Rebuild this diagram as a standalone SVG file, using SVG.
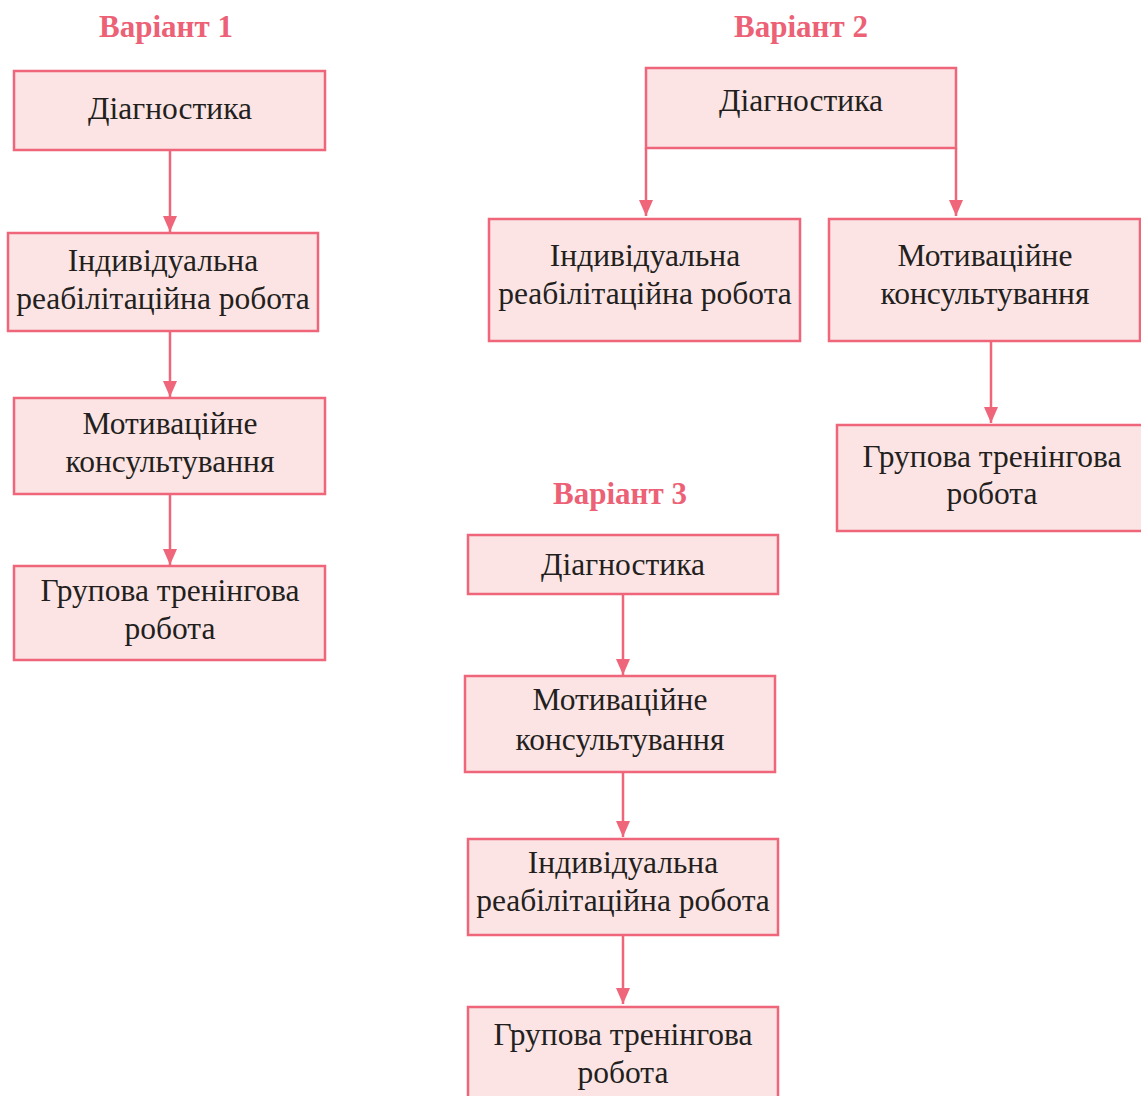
<svg xmlns="http://www.w3.org/2000/svg" width="1141" height="1096" viewBox="0 0 1141 1096">
<defs>
<style>
.box{fill:#fce4e4;stroke:#ef6579;stroke-width:2.5}
.t{font-family:"Liberation Serif","Times New Roman",serif;font-size:31.5px;fill:#231f20;text-anchor:middle}
.h{font-family:"Liberation Serif","Times New Roman",serif;font-size:31px;font-weight:bold;fill:#ec6176;text-anchor:middle}
.c{stroke:#ef6579;stroke-width:2.5;fill:none}
</style>
<marker id="a" viewBox="0 0 16 14" refX="16" refY="7" markerWidth="16" markerHeight="14" markerUnits="userSpaceOnUse" orient="auto">
<path d="M0,0 L16,7 L0,14 Z" fill="#ef6579"/>
</marker>
</defs>
<rect width="1141" height="1096" fill="#ffffff"/>
<text class="h" x="166" y="37">Варіант 1</text>
<text class="h" x="801" y="37">Варіант 2</text>
<text class="h" x="620" y="504">Варіант 3</text>
<g id="connectors">
<line class="c" x1="170" y1="151" x2="170" y2="232" marker-end="url(#a)"/>
<line class="c" x1="170" y1="331" x2="170" y2="397" marker-end="url(#a)"/>
<line class="c" x1="170" y1="494" x2="170" y2="565" marker-end="url(#a)"/>
<line class="c" x1="646" y1="148" x2="646" y2="216" marker-end="url(#a)"/>
<line class="c" x1="956" y1="148" x2="956" y2="216" marker-end="url(#a)"/>
<line class="c" x1="991" y1="341" x2="991" y2="423" marker-end="url(#a)"/>
<line class="c" x1="623" y1="594" x2="623" y2="675" marker-end="url(#a)"/>
<line class="c" x1="623" y1="772" x2="623" y2="837" marker-end="url(#a)"/>
<line class="c" x1="623" y1="935" x2="623" y2="1004" marker-end="url(#a)"/>
</g>
<g id="v1-diag"><rect class="box" x="14" y="71" width="311" height="79"/><text class="t" x="170" y="119">Діагностика</text></g>
<g id="v1-ind"><rect class="box" x="8" y="233" width="310" height="98"/><text class="t" x="163" y="271">Індивідуальна</text><text class="t" x="163" y="309">реабілітаційна робота</text></g>
<g id="v1-mot"><rect class="box" x="14" y="398" width="311" height="96"/><text class="t" x="170" y="434">Мотиваційне</text><text class="t" x="170" y="472">консультування</text></g>
<g id="v1-grp"><rect class="box" x="14" y="566" width="311" height="94"/><text class="t" x="170" y="601">Групова тренінгова</text><text class="t" x="170" y="639">робота</text></g>
<g id="v2-diag"><rect class="box" x="646" y="68" width="310" height="80"/><text class="t" x="801" y="111">Діагностика</text></g>
<g id="v2-ind"><rect class="box" x="489" y="219" width="311" height="122"/><text class="t" x="645" y="266">Індивідуальна</text><text class="t" x="645" y="304">реабілітаційна робота</text></g>
<g id="v2-mot"><rect class="box" x="829" y="219" width="311" height="122"/><text class="t" x="985" y="266">Мотиваційне</text><text class="t" x="985" y="304">консультування</text></g>
<g id="v2-grp"><rect class="box" x="837" y="425" width="306" height="106"/><text class="t" x="992" y="467">Групова тренінгова</text><text class="t" x="992" y="504">робота</text></g>
<g id="v3-diag"><rect class="box" x="468" y="535" width="310" height="59"/><text class="t" x="623" y="575">Діагностика</text></g>
<g id="v3-mot"><rect class="box" x="465" y="676" width="310" height="96"/><text class="t" x="620" y="710">Мотиваційне</text><text class="t" x="620" y="750">консультування</text></g>
<g id="v3-ind"><rect class="box" x="468" y="839" width="310" height="96"/><text class="t" x="623" y="873">Індивідуальна</text><text class="t" x="623" y="911">реабілітаційна робота</text></g>
<g id="v3-grp"><rect class="box" x="468" y="1007" width="310" height="95"/><text class="t" x="623" y="1045">Групова тренінгова</text><text class="t" x="623" y="1083">робота</text></g>
</svg>
